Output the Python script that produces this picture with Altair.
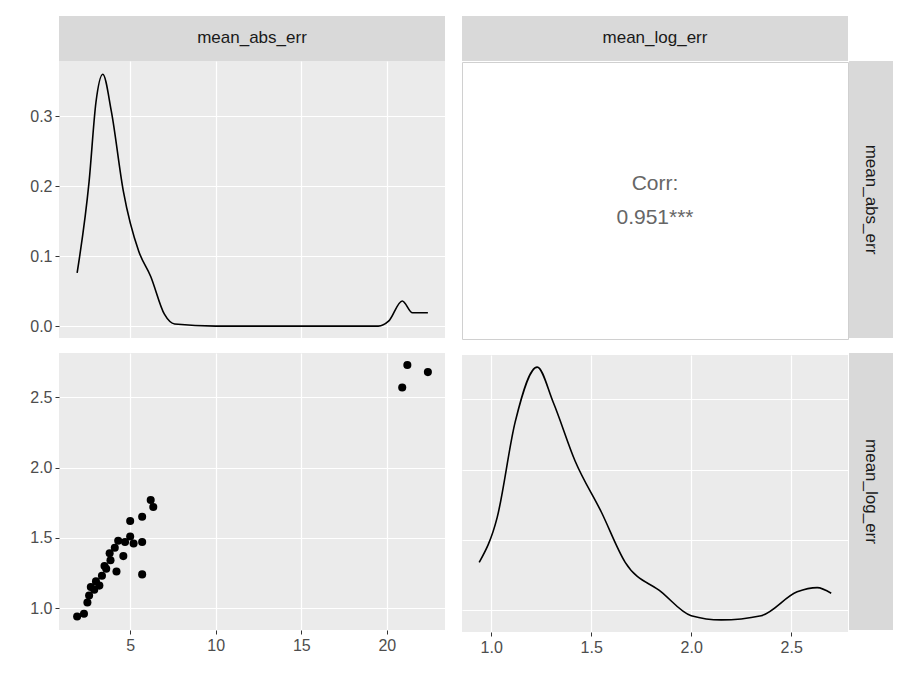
import altair as alt
import pandas as pd

# scatter: mean_abs_err vs mean_log_err
abs_err = [1.9, 2.3, 2.5, 2.6, 2.7, 3.0, 3.35, 3.6, 3.85, 4.1, 4.3, 4.7, 4.6, 5.0, 5.0,
           5.7, 5.7, 5.7, 6.2, 6.35, 5.2, 4.2, 3.8, 3.2, 2.9, 3.5, 20.9, 21.2, 22.4]
log_err = [0.94, 0.96, 1.04, 1.09, 1.15, 1.19, 1.23, 1.28, 1.34, 1.43, 1.48, 1.47, 1.37, 1.51, 1.62,
           1.65, 1.47, 1.24, 1.77, 1.72, 1.46, 1.26, 1.39, 1.16, 1.13, 1.30, 2.57, 2.73, 2.68]

# density of mean_abs_err
dens_abs_x = [1.9, 2.6, 3.0, 3.4, 3.9, 4.6, 5.5, 6.2, 7.0, 7.6, 10, 15, 19.5, 20.1, 20.9, 21.5, 22.4]
dens_abs_y = [0.076, 0.207, 0.32, 0.36, 0.307, 0.193, 0.107, 0.071, 0.017, 0.003, 0.0, 0.0, 0.0,
              0.007, 0.036, 0.019, 0.019]

# density of mean_log_err (drawn in the row's y units, as ggpairs does)
dens_log_x = [0.94, 1.03, 1.12, 1.23, 1.31, 1.42, 1.55, 1.67, 1.85, 2.0, 2.15, 2.35, 2.53, 2.63, 2.70]
dens_log_y = [1.34, 1.66, 2.34, 2.73, 2.48, 2.06, 1.70, 1.34, 1.13, 0.96, 0.93, 0.96, 1.13, 1.16, 1.12]

PW, PH = 386, 277
GREY = "#EBEBEB"
STRIP = "#D9D9D9"


def ax(values, labels=True):
    return alt.Axis(values=values, grid=True, gridColor="white", gridWidth=1.2,
                    labels=labels, ticks=labels, tickColor="#333333", tickSize=4,
                    labelColor="#4D4D4D", labelFontSize=16, labelFont="Liberation Sans",
                    domain=False, title=None, labelPadding=3)


bg = alt.ViewBackground(fill=GREY, stroke=None)

abs_dom = [0.84, 23.4]
log_xdom = [0.854, 2.784]
log_ydom = [0.844, 2.816]

p11 = alt.Chart(pd.DataFrame({"x": dens_abs_x, "y": dens_abs_y})).mark_line(
    color="black", interpolate="monotone", strokeWidth=1.6
).encode(
    x=alt.X("x:Q", scale=alt.Scale(domain=abs_dom, nice=False, zero=False), axis=ax([5, 10, 15, 20], False)),
    y=alt.Y("y:Q", scale=alt.Scale(domain=[-0.017, 0.379], nice=False), axis=ax([0.0, 0.1, 0.2, 0.3])),
).properties(width=PW, height=PH, view=bg)

p12 = alt.Chart(pd.DataFrame({"t": [["Corr:", "0.951***"]]})).mark_text(
    fontSize=21, color="#666666", font="Liberation Sans", lineHeight=34
).encode(
    x=alt.value(PW / 2), y=alt.value(PH / 2 - 17), text="t"
).properties(width=PW, height=PH, view=alt.ViewBackground(fill="white", stroke="#D0D0D0"))

p21 = alt.Chart(pd.DataFrame({"x": abs_err, "y": log_err})).mark_circle(
    color="black", size=65, opacity=1
).encode(
    x=alt.X("x:Q", scale=alt.Scale(domain=abs_dom, nice=False, zero=False), axis=ax([5, 10, 15, 20])),
    y=alt.Y("y:Q", scale=alt.Scale(domain=log_ydom, nice=False, zero=False), axis=ax([1.0, 1.5, 2.0, 2.5])),
).properties(width=PW, height=PH, view=bg)

p22 = alt.Chart(pd.DataFrame({"x": dens_log_x, "y": dens_log_y})).mark_line(
    color="black", interpolate="monotone", strokeWidth=1.6
).encode(
    x=alt.X("x:Q", scale=alt.Scale(domain=log_xdom, nice=False, zero=False), axis=ax([1.0, 1.5, 2.0, 2.5])),
    y=alt.Y("y:Q", scale=alt.Scale(domain=log_ydom, nice=False, zero=False), axis=ax([1.0, 1.5, 2.0, 2.5], False)),
).properties(width=PW, height=PH, view=bg)


def top_strip(label):
    return alt.Chart(pd.DataFrame({"t": [label]})).mark_text(
        fontSize=17, color="#1A1A1A", font="Liberation Sans"
    ).encode(x=alt.value(PW / 2), y=alt.value(22), text="t").properties(
        width=PW, height=45, view=alt.ViewBackground(fill=STRIP, stroke=None))


def side_strip(label):
    return alt.Chart(pd.DataFrame({"t": [label]})).mark_text(
        fontSize=17, color="#1A1A1A", font="Liberation Sans", angle=90
    ).encode(x=alt.value(22), y=alt.value(PH / 2), text="t").properties(
        width=44, height=PH, view=alt.ViewBackground(fill=STRIP, stroke=None))


blank = alt.Chart(pd.DataFrame({"t": [""]})).mark_text().encode(
    x=alt.value(0), y=alt.value(0), text="t"
).properties(width=44, height=45, view=alt.ViewBackground(fill="white", stroke=None))

col1 = alt.vconcat(alt.vconcat(top_strip("mean_abs_err"), p11, spacing=0), p21, spacing=15)
col2 = alt.vconcat(alt.vconcat(top_strip("mean_log_err"), p12, spacing=0), p22, spacing=15)
col3 = alt.vconcat(alt.vconcat(blank, side_strip("mean_abs_err"), spacing=0), side_strip("mean_log_err"), spacing=15)

chart = alt.hconcat(alt.hconcat(col1, col2, spacing=16), col3, spacing=0).properties(
    padding={"left": 21, "top": 2, "right": 0, "bottom": 0}
).configure_view(stroke=None)

chart.save("out.html", embed_options={"renderer": "svg", "actions": False})
